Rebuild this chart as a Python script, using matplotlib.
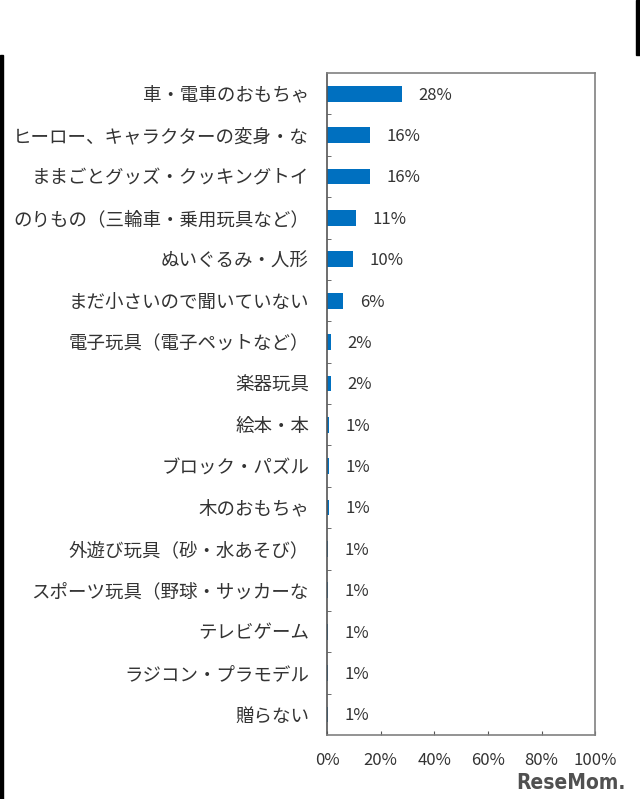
import matplotlib.pyplot as plt
from matplotlib.patches import Rectangle

plt.rcParams['font.family'] = ['Noto Sans CJK JP', 'DejaVu Sans']

categories = [
    "車・電車のおもちゃ",
    "ヒーロー、キャラクターの変身・な",
    "ままごとグッズ・クッキングトイ",
    "のりもの（三輪車・乗用玩具など）",
    "ぬいぐるみ・人形",
    "まだ小さいので聞いていない",
    "電子玩具（電子ペットなど）",
    "楽器玩具",
    "絵本・本",
    "ブロック・パズル",
    "木のおもちゃ",
    "外遊び玩具（砂・水あそび）",
    "スポーツ玩具（野球・サッカーな",
    "テレビゲーム",
    "ラジコン・プラモデル",
    "贈らない",
]
values = [28, 16, 16, 11, 10, 6, 2, 2, 1, 1, 1, 1, 1, 1, 1, 1]
bar_lengths = [28, 16, 16, 10.8, 9.8, 6, 1.5, 1.5, 0.6, 0.6, 0.6, 0.4, 0.4, 0.4, 0.4, 0.4]
xticks = [0, 20, 40, 60, 80, 100]

fig = plt.figure(figsize=(6.4, 7.99), dpi=100)
ax = fig.add_axes([0.511, 0.080, 0.419, 0.8285])

y = range(len(categories))
ax.barh(y, bar_lengths, height=0.38, color="#0070C0")
for i, v in enumerate(values):
    ax.annotate(f"{v}%", (bar_lengths[i], i), xytext=(12, -1), textcoords="offset points",
                va="center", ha="left", fontsize=12, color="#333333")

ax.set_xlim(0, 100)
ax.set_ylim(len(categories) - 0.5, -0.5)
ax.set_yticks(list(y))
ax.set_yticklabels(categories, fontsize=13.3, color="#333333")
ax.set_yticks([i + 0.5 for i in range(len(categories) - 1)], minor=True)
ax.set_xticks(xticks)
ax.set_xticklabels([f"{t}%" for t in xticks], fontsize=12, color="#333333")
ax.tick_params(axis="y", which="major", length=0, pad=13)
ax.tick_params(axis="y", which="minor", direction="in", length=3, color="#555555")
ax.tick_params(axis="x", direction="in", length=3, color="#555555", pad=12)
for s in ax.spines.values():
    s.set_color("#808080")
    s.set_linewidth(1.2)
ax.spines["left"].set_color("#555555")

# page edges from the screenshot crop
fig.patches.append(Rectangle((0, 0), 0.005, 1 - 55 / 799, transform=fig.transFigure,
                             color="black", zorder=5))
fig.patches.append(Rectangle((0.994, 1 - 55 / 799), 0.006, 55 / 799, transform=fig.transFigure,
                             color="black", zorder=5))

fig.text(0.977, 0.008, "ReseMom.", ha="right", va="bottom", fontsize=15,
         fontweight="bold", fontstretch="condensed", color="#505050",
         family=["DejaVu Sans"])

fig.savefig("out.png", dpi=100)
